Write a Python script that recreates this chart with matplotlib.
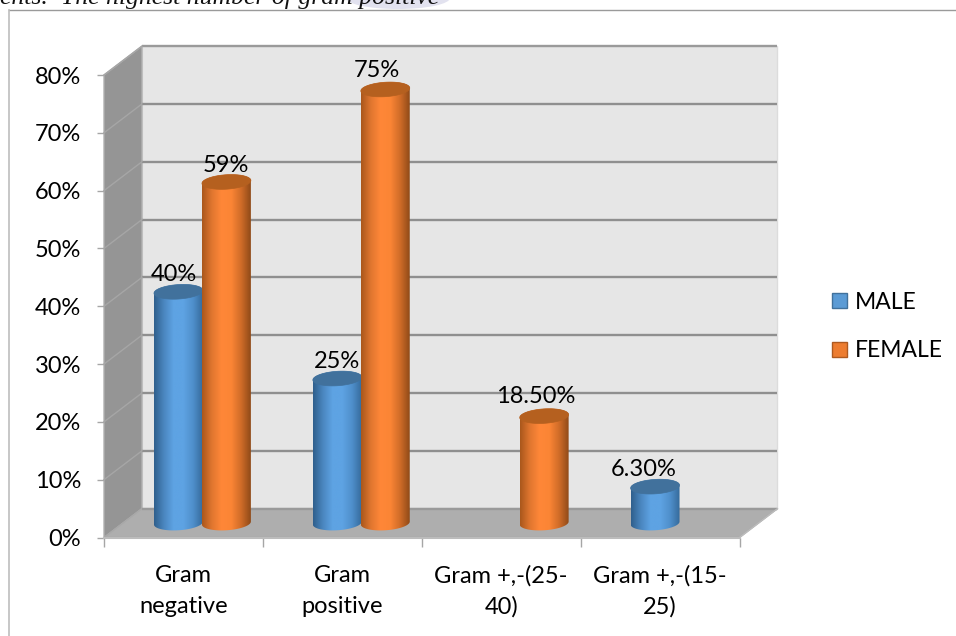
import numpy as np
import matplotlib
matplotlib.use('Agg')
import matplotlib.pyplot as plt
from matplotlib.patches import Polygon, Patch, Ellipse
from matplotlib.ticker import PercentFormatter

W, H = 956, 636

categories = ['Gram\nnegative', 'Gram\npositive', 'Gram +,-(25-\n40)', 'Gram +,-(15-\n25)']
male = [40, 25, None, 6.3]
female = [59, 75, 18.5, None]
male_labels = ['40%', '25%', None, '6.30%']
female_labels = ['59%', '75%', '18.50%', None]
y_ticks = [0, 10, 20, 30, 40, 50, 60, 70, 80]

plt.rcParams['font.family'] = ['Lato', 'DejaVu Sans']

# depth of the box, in data units
DX, DY = 0.239, 5.0
RX, RY = 0.154, 1.25
SHEAR = 1.65
SIDE = 0.151
FS = 17

BLUE = ['#2f5f8c', '#4a86bf', '#5ea3e3', '#5ea3e3', '#4f8fcb', '#356a9b']
ORANGE = ['#a9571c', '#e0762f', '#ff8738', '#fb8535', '#d06c28', '#8f4a18']


def ellipse_pts(cx, cy, start=0, stop=2 * np.pi, n=80):
    t = np.linspace(start, stop, n)
    x = RX * np.cos(t)
    return np.column_stack([cx + x, cy + RY * np.sin(t) + SHEAR * x])


def draw_cylinder(ax, cx, value, colors, top_color, z):
    y0 = DY / 2
    y1 = value + DY / 2
    cx = cx + DX / 2
    # body outline: bottom half of both ellipses joined up
    lower = ellipse_pts(cx, y0, np.pi, 2 * np.pi)
    upper = ellipse_pts(cx, y1, 0, np.pi)
    body = Polygon(np.vstack([lower, upper]), closed=True, fc='none', ec='none',
                   transform=ax.transData, zorder=z)
    ax.add_patch(body)
    body.set_clip_on(False)
    xs = np.linspace(0, 1, len(colors))
    rgb = np.array([matplotlib.colors.to_rgb(c) for c in colors])
    u = np.linspace(0, 1, 200)
    grad = np.column_stack([np.interp(u, xs, rgb[:, i]) for i in range(3)])[None, :, :]
    im = ax.imshow(grad, extent=[cx - RX, cx + RX, y0 - 3, y1 + 3], aspect='auto',
                   interpolation='bilinear', zorder=z)
    im.set_clip_box(ax.figure.bbox)
    im.set_clip_path(body)
    top = Polygon(ellipse_pts(cx, y1), closed=True, fc=top_color, ec=top_color, lw=0.5,
                  zorder=z + 0.1, clip_on=False)
    ax.add_patch(top)


fig = plt.figure(figsize=(W / 100, H / 100), dpi=100, facecolor='white')
ax = fig.add_axes([104 / W, 1 - 537.5 / H, (739.5 - 104) / W, (537.5 - 75) / H])
ax.patch.set_visible(False)

# box walls
n = len(categories)
top = y_ticks[-1]
ax.add_patch(Polygon([(DX, DY), (n + DX, DY), (n + DX, top + DY), (DX, top + DY)],
                     closed=True, fc='#e6e6e6', ec='#dcdcdc', lw=1, zorder=1, clip_on=False))
ax.add_patch(Polygon([(0, 0), (DX, DY), (DX, top + DY), (0, top)],
                     closed=True, fc='#959595', ec='#b0b0b0', lw=1, zorder=1, clip_on=False))
ax.add_patch(Polygon([(0, 0), (n, 0), (n + DX, DY), (DX, DY)],
                     closed=True, fc='#aeaeae', ec='#a8a8a8', lw=1, zorder=1, clip_on=False))

for t in y_ticks:
    lc = '#8f8f8f' if 0 < t < top else '#9a9a9a'
    ax.plot([DX, n + DX], [t + DY, t + DY], color=lc, lw=1.7, zorder=2, clip_on=False,
            solid_capstyle='butt')
    if t > 0:
        ax.plot([0, DX], [t, t + DY], color='#a6a6a6', lw=1, zorder=2, clip_on=False)

# front floor edge
ax.plot([0, n], [0, 0], color='#bcbcbc', lw=1.5, zorder=3, clip_on=False)
ax.plot([n, n + DX], [0, DY], color='#bcbcbc', lw=1, zorder=3, clip_on=False)

# columns
for i in range(n):
    center = i + 0.5
    if male[i] is not None:
        draw_cylinder(ax, center - SIDE, male[i], BLUE, '#41719c', 5)
    if female[i] is not None:
        draw_cylinder(ax, center + SIDE, female[i], ORANGE, '#b5601f', 6)

ax.set_xlim(0, n)
ax.set_ylim(0, top)

# value labels, nudged by hand in pixels from the column top
male_off = [(-5, 17), (0, 17), None, (-11, 17)]
female_off = [(-1, 16), (-8, 19), (-8, 20), None]
for i in range(n):
    for vals, labs, offs, side in ((male, male_labels, male_off, -SIDE),
                                   (female, female_labels, female_off, SIDE)):
        if vals[i] is None:
            continue
        ax.annotate(labs[i], (i + 0.5 + side + DX / 2, vals[i] + DY / 2),
                    xytext=(offs[i][0] * 0.72, offs[i][1] * 0.72), textcoords='offset points',
                    ha='center', va='center', fontsize=FS, color='black', zorder=8,
                    annotation_clip=False)

# axes and ticks
for s in ('top', 'right', 'left', 'bottom'):
    ax.spines[s].set_visible(False)
ax.set_yticks(y_ticks)
ax.yaxis.set_major_formatter(PercentFormatter(decimals=0))
ax.set_xticks(np.arange(n + 1))
ax.set_xticks(np.arange(n) + 0.5, minor=True)
ax.set_xticklabels([])
ax.set_xticklabels(categories, minor=True)
ax.tick_params(axis='y', length=5, width=1, color='#a6a6a6', labelsize=FS, pad=11.5)
ax.tick_params(axis='x', which='major', length=6.5, width=1, color='#a6a6a6')
ax.tick_params(axis='x', which='minor', length=0, labelsize=FS, pad=20)
for lab in ax.get_xticklabels(minor=True):
    lab.set_linespacing(1.55)

ax.legend(handles=[Patch(fc='#5b9bd5', ec='#41719c', label='MALE'),
                   Patch(fc='#ed7d31', ec='#ae5a21', label='FEMALE')],
          loc='center left', bbox_to_anchor=(832 / W, 1 - 326.5 / H),
          bbox_transform=fig.transFigure, frameon=False, fontsize=16.5,
          handlelength=0.65, handleheight=0.65, handletextpad=0.36, labelspacing=1.2,
          borderpad=0, borderaxespad=0)

# chart frame and the line of body text running above it
bg = fig.add_axes([0, 0, 1, 1], zorder=-1)
bg.set_axis_off()
bg.set_xlim(0, W)
bg.set_ylim(H, 0)
bg.add_patch(Ellipse((398, -2), 104, 22, fc='#e2e2ef', ec='none'))

fig.add_artist(plt.Line2D([9 / W, 1], [1 - 9.5 / H] * 2, color='#9a9a9a', lw=1))
fig.add_artist(plt.Line2D([9 / W, 9 / W], [0, 1 - 9.5 / H], color='#bdbdbd', lw=1.2))
fig.text(0, 1 - 4 / H, 'ents.  The highest number of gram positive', family='Liberation Serif',
         style='italic', fontsize=18.5, color='#111111', ha='left', va='baseline')

fig.savefig('out.png', dpi=100, facecolor='white')
